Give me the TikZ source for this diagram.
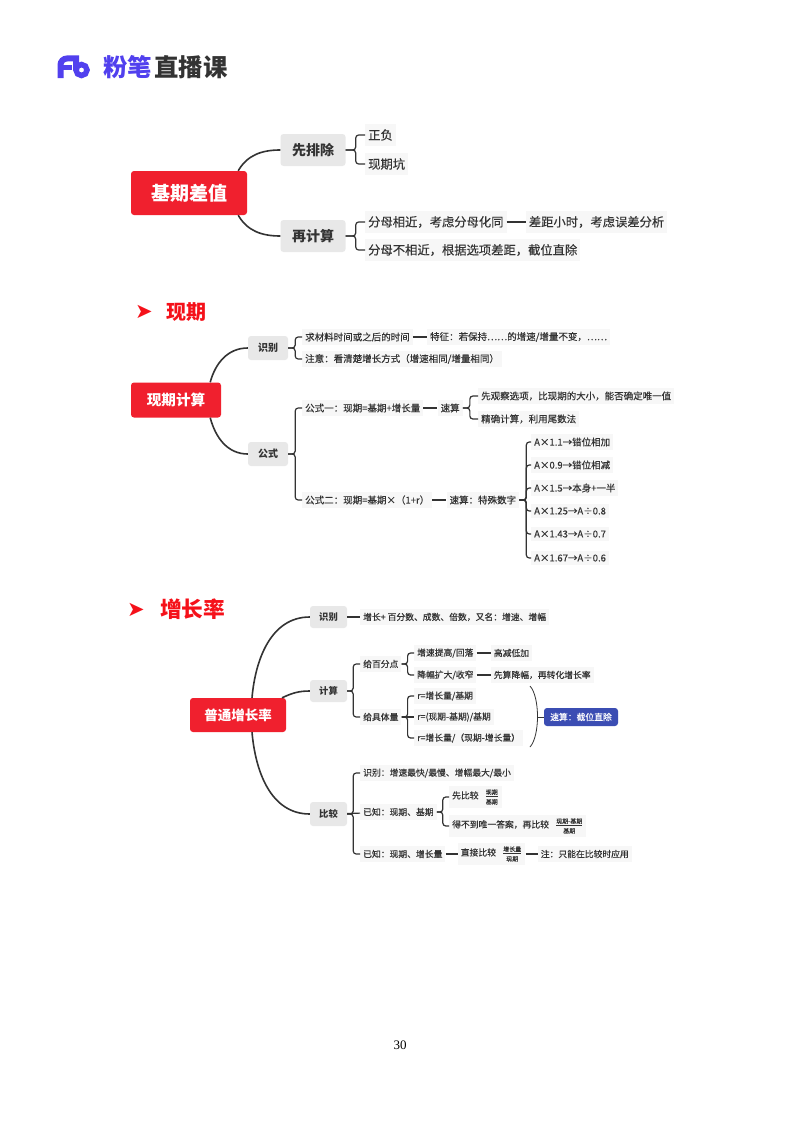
\documentclass[tikz,border=0pt]{standalone}
\usepackage{fontspec}
\setmainfont{Noto Sans CJK SC}[FakeBold=0.3,BoldFeatures={FakeBold=0}]
\newfontfamily\symfont{DejaVu Sans}
\newfontfamily\pagefont{Liberation Serif}
\usetikzlibrary{positioning,calc}

\definecolor{rootred}{HTML}{F0202E}
\definecolor{headred}{HTML}{F5111A}
\definecolor{tagblue}{HTML}{3B4DB3}
\definecolor{brandblue}{HTML}{5140EE}
\definecolor{inkgray}{HTML}{333333}

% full-width punctuation
\newcommand{\cma}{\symbol{"FF0C}}
\newcommand{\cln}{\symbol{"FF1A}}
\newcommand{\lpa}{\symbol{"FF08}}
\newcommand{\rpa}{\symbol{"FF09}}

\newcommand{\ratio}[2]{$\frac{\mbox{\rule[-1.5pt]{0pt}{1.5pt}\fontsize{6}{7}\selectfont #1}}{\mbox{\rule{0pt}{7pt}\fontsize{6}{7}\selectfont #2}}$}

\tikzset{
	rootbox/.style={fill=rootred,text=white,rounded corners=3pt,font=\bfseries\fontsize{14.6}{16}\selectfont,inner sep=0pt},
	branchbox/.style={fill=black!9,text=inkgray,rounded corners=3pt,inner sep=0pt,font=\bfseries\fontsize{10}{12}\selectfont},
	leaf/.style={fill=black!3,text=inkgray,anchor=west,inner xsep=3pt,inner ysep=3.5pt,font=\fontsize{9.5}{11}\selectfont},
	smallleaf/.style={leaf,font=\fontsize{8.8}{10}\selectfont},
	bigleaf/.style={leaf,inner ysep=5.5pt,font=\fontsize{12.3}{15}\selectfont},
	trunk/.style={line width=1.6pt,draw=inkgray},
	link/.style={line width=1.2pt,draw=inkgray,rounded corners=3pt},
	heading/.style={text=headred,font=\bfseries\fontsize{20}{22}\selectfont,inner sep=0pt,anchor=west},
	pointer/.style={text=headred,font=\symfont\fontsize{21}{23}\selectfont,inner sep=0pt}
}

\begin{document}
\begin{tikzpicture}[x=1pt,y=-1pt]

	\useasboundingbox [fill=white] (0,0) rectangle (800,1132);

	% logo
	\begin{scope}
	\draw [brandblue,line width=6pt] (60.5,78) -- (60.5,65) to [out=90,in=180] (67,58.5) -- (76,58.5) -- (76,70);
	\draw [brandblue,line width=5pt] (60,67.5) -- (72,67.5);
	\draw [brandblue,line width=5.5pt] (81.5,70) circle (5.5);
	\node (brand) at (103,67) [anchor=west,inner sep=0pt,text=brandblue,font=\bfseries\fontsize{24.4}{26}\selectfont] {粉笔};
	\node (course) [right=2pt of brand,inner sep=0pt,text=inkgray,font=\bfseries\fontsize{24.4}{26}\selectfont] {直播课};
	\end{scope}

	% first map
	\begin{scope}

	\node (base) at (189,193) [rootbox,minimum width=116pt,minimum height=44pt,font=\bfseries\fontsize{19}{21}\selectfont] {基期差值};

	\node (first) at (313,150) [branchbox,minimum width=65pt,minimum height=32pt,font=\bfseries\fontsize{14}{16}\selectfont] {先排除};

	\node (again) at (313,236) [branchbox,minimum width=65pt,minimum height=32pt,font=\bfseries\fontsize{14}{16}\selectfont] {再计算};

	\node (sign) at (365,135) [bigleaf] {正负};

	\node (trap) at (365,164) [bigleaf] {现期坑};

	\node (near) at (365,222) [bigleaf] {分母相近\cma 考虑分母化同};

	\node (gap) [bigleaf,right=19pt of near] {差距小时\cma 考虑误差分析};

	\node (far) at (365,250) [bigleaf] {分母不相近\cma 根据选项差距\cma 截位直除};

	\draw [trunk] ([xshift=-9pt]base.north east) to [out=60,in=180] (first.west);

	\draw [trunk] ([xshift=-9pt]base.south east) to [out=-60,in=180] (again.west);

	\draw [link] (first.east) -- ++(10,0) |- (sign.west);
	\draw [link] (first.east) -- ++(10,0) |- (trap.west);
	\draw [link] (again.east) -- ++(10,0) |- (near.west);
	\draw [link] (again.east) -- ++(10,0) |- (far.west);
	\draw [link] (near) -- (gap);

	\end{scope}

	% second map
	\begin{scope}

	\node (mark_now) at (144,312) [pointer] {➤};

	\node (head_now) at (166,312) [heading] {现期};

	\node (now) at (176,400) [rootbox,minimum width=90pt,minimum height=35pt] {现期计算};

	\node (spot) at (268,348) [branchbox,minimum width=40pt,minimum height=24pt] {识别};

	\node (rule) at (268,454) [branchbox,minimum width=40pt,minimum height=24pt] {公式};

	\node (seek) at (302,337) [leaf] {求材料时间或之后的时间};

	\node (trait) [leaf,right=14pt of seek] {特征\cln 若保持……的增速/增量不变\cma ……};

	\node (note) at (302,359) [leaf] {注意\cln 看清楚增长方式\lpa 增速相同/增量相同\rpa};

	\node (one) at (302,408) [leaf] {公式一\cln 现期=基期+增长量};

	\node (fast) [leaf,right=14pt of one] {速算};

	\node (look) at (478,396) [leaf] {先观察选项\cma 比现期的大小\cma 能否确定唯一值};

	\node (exact) at (478,419) [leaf] {精确计算\cma 利用尾数法};

	\node (two) at (302,500) [leaf] {公式二\cln 现期=基期×\lpa 1+r\rpa};

	\node (quick) [leaf,right=14pt of two] {速算\cln 特殊数字};

	\foreach \n/\y/\t in {a/442/A×1.1→错位相加,b/465/A×0.9→错位相减,c/488/A×1.5→本身+一半,d/511/A×1.25→A÷0.8,e/534/A×1.43→A÷0.7,f/558/A×1.67→A÷0.6}
		\node (num\n) at (531,\y) [leaf] {\t};

	\draw [trunk] ([xshift=-11pt]now.north east) to [out=75,in=180] (spot.west);

	\draw [trunk] ([xshift=-11pt]now.south east) to [out=-75,in=180] (rule.west);

	\draw [link] (spot.east) -- ++(7,0) |- (seek.west);
	\draw [link] (spot.east) -- ++(7,0) |- (note.west);
	\draw [link] (rule.east) -- ++(7,0) |- (one.west);
	\draw [link] (rule.east) -- ++(7,0) |- (two.west);
	\draw [link] (seek) -- (trait);
	\draw [link] (one) -- (fast);
	\draw [link] (two) -- (quick);
	\draw [link] (fast.east) -- ++(7,0) |- (look.west);
	\draw [link] (fast.east) -- ++(7,0) |- (exact.west);

	\foreach \n in {a,b,c,d,e,f}
		\draw [link] (quick.east) -- ++(7,0) |- (num\n.west);

	\end{scope}

	% third map
	\begin{scope}

	\node (mark_rate) at (136,610) [pointer] {➤};

	\node (head_rate) at (160,609) [heading,font=\bfseries\fontsize{21.7}{24}\selectfont] {增长率};

	\node (rate) at (238,715) [rootbox,minimum width=96pt,minimum height=34pt,font=\bfseries\fontsize{13.5}{15}\selectfont] {普通增长率};

	\node (know) at (328.5,617) [branchbox,minimum width=37pt,minimum height=22pt,font=\bfseries\fontsize{9.3}{11}\selectfont] {识别};

	\node (calc) at (328.5,691) [branchbox,minimum width=37pt,minimum height=22pt,font=\bfseries\fontsize{9.3}{11}\selectfont] {计算};

	\node (comp) at (328.5,814) [branchbox,minimum width=37pt,minimum height=24pt,font=\bfseries\fontsize{9.3}{11}\selectfont] {比较};

	\node (words) at (360,617) [smallleaf] {增长+ 百分数、成数、倍数\cma 又名\cln 增速、增幅};

	\node (pct) at (360,664) [smallleaf] {给百分点};

	\node (qty) at (360,717) [smallleaf] {给具体量};

	\node (rise) at (414,653) [smallleaf] {增速提高/回落};

	\node (high) [smallleaf,right=14pt of rise] {高减低加};

	\node (drop) at (414,675) [smallleaf] {降幅扩大/收窄};

	\node (calcdrop) [smallleaf,right=14pt of drop] {先算降幅\cma 再转化增长率};

	\node (ra) at (414,696) [smallleaf] {r=增长量/基期};

	\node (rb) at (414,717) [smallleaf] {r=(现期-基期)/基期};

	\node (rc) at (414,738) [smallleaf] {r=增长量/\lpa 现期-增长量\rpa};

	\node (tag) at (581,717) [fill=tagblue,text=white,rounded corners=3pt,minimum width=74pt,minimum height=18pt,inner sep=0pt,font=\fontsize{8.8}{10}\selectfont] {速算\cln 截位直除};

	\node (fastest) at (360,773) [smallleaf] {识别\cln 增速最快/最慢、增幅最大/最小};

	\node (knowa) at (360,812) [smallleaf] {已知\cln 现期、基期};

	\node (knowb) at (360,854) [smallleaf] {已知\cln 现期、增长量};

	\node (cmpa) at (449,797) [smallleaf] {先比较\hspace{6pt}\ratio{现期}{基期}};

	\node (cmpb) at (449,826) [smallleaf] {得不到唯一答案\cma 再比较\hspace{6pt}\ratio{现期-基期}{基期}};

	\node (direct) [smallleaf,right=12pt of knowb] {直接比较\hspace{6pt}\ratio{增长量}{现期}};

	\node (only) [smallleaf,right=12pt of direct] {注\cln 只能在比较时应用};

	\coordinate (arc_top) at (530,686);

	\coordinate (arc_bot) at (530,747);

	\draw [trunk] ([xshift=14pt]rate.north) to [out=85,in=180] (know.west);

	\draw [trunk] ([xshift=44pt]rate.north) to [out=25,in=180] (calc.west);

	\draw [trunk] ([xshift=14pt]rate.south) to [out=-85,in=180] (comp.west);

	\draw [link] (know) -- (words);
	\draw [link] (calc.east) -- ++(6,0) |- (pct.west);
	\draw [link] (calc.east) -- ++(6,0) |- (qty.west);
	\draw [link] (pct.east) -- ++(6,0) |- (rise.west);
	\draw [link] (pct.east) -- ++(6,0) |- (drop.west);
	\draw [link] (qty.east) -- ++(6,0) |- (ra.west);
	\draw [link] (qty) -- (rb);
	\draw [link] (qty.east) -- ++(6,0) |- (rc.west);
	\draw [link] (rise) -- (high);
	\draw [link] (drop) -- (calcdrop);
	\draw [link] (comp.east) -- ++(6,0) |- (fastest.west);
	\draw [link] (comp) -- (knowa);
	\draw [link] (comp.east) -- ++(6,0) |- (knowb.west);
	\draw [link] (knowa.east) -- ++(6,0) |- (cmpa.west);
	\draw [link] (knowa.east) -- ++(6,0) |- (cmpb.west);
	\draw [link] (knowb) -- (direct);
	\draw [link] (direct) -- (only);

	\draw [line width=.8pt,draw=inkgray] (arc_top) .. controls (540,697) and (540,736) .. (arc_bot);

	\draw [line width=.8pt,draw=inkgray] (537,717) -- (tag.west);

	\end{scope}

	\node (pageno) at (400,1045) [text=black,font=\pagefont\fontsize{13}{15}\selectfont] {30};

\end{tikzpicture}
\end{document}
